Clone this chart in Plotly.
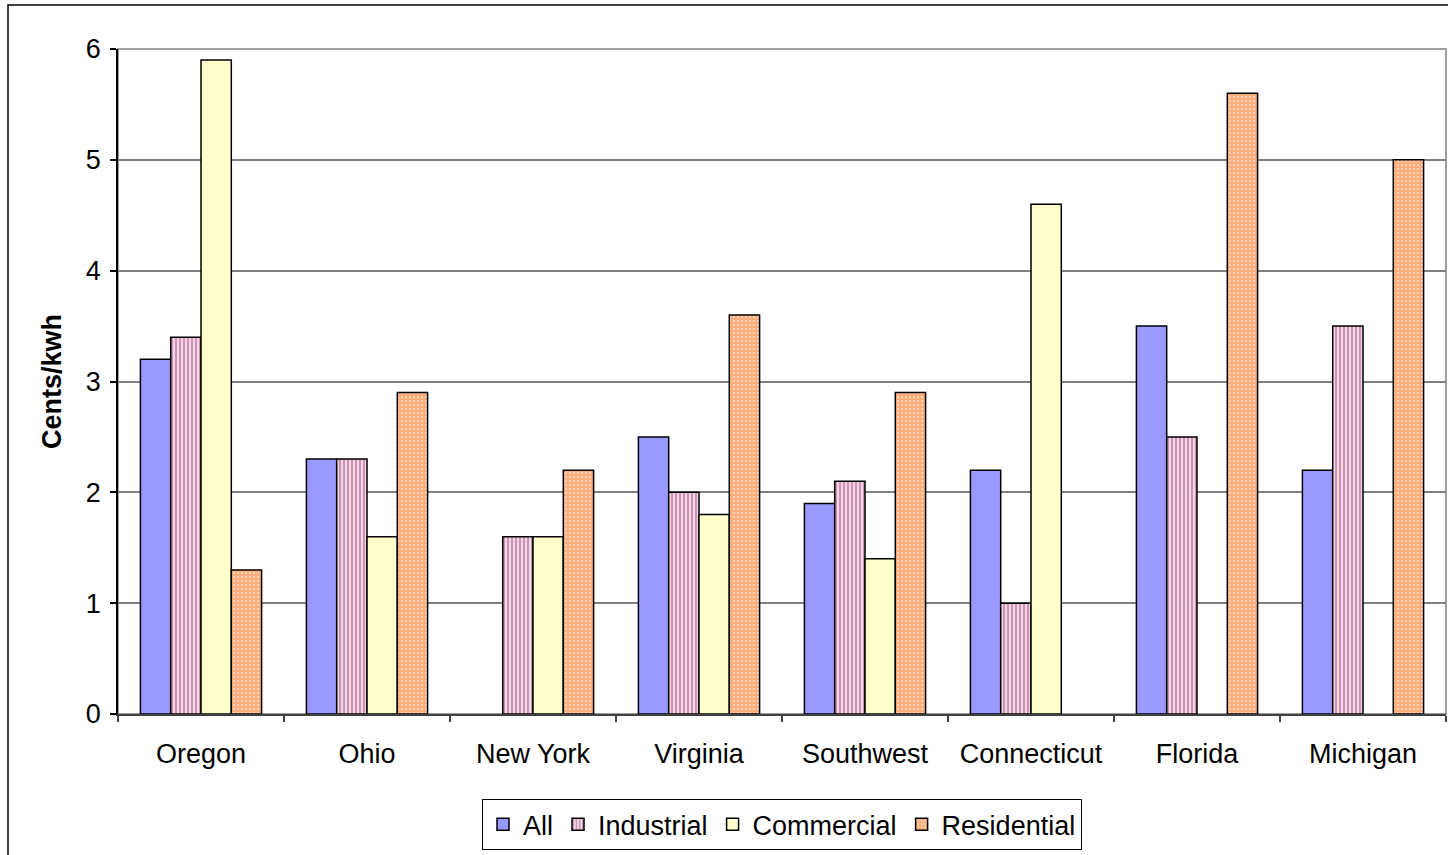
import plotly.graph_objects as go

regions = ["Oregon", "Ohio", "New York", "Virginia", "Southwest", "Connecticut", "Florida", "Michigan"]
all_sectors = [3.2, 2.3, None, 2.5, 1.9, 2.2, 3.5, 2.2]
industrial = [3.4, 2.3, 1.6, 2.0, 2.1, 1.0, 2.5, 3.5]
commercial = [5.9, 1.6, 1.6, 1.8, 1.4, 4.6, None, None]
residential = [1.3, 2.9, 2.2, 3.6, 2.9, None, 5.6, 5.0]
y_ticks = [0, 1, 2, 3, 4, 5, 6]

FONT = "Liberation Sans, Arial, sans-serif"
FS = 27
W, H = 1448, 855
L, R, T, B = 118, 2, 49, 141

edge = dict(color="black", width=1.5)

fig = go.Figure()
fig.add_trace(go.Bar(name="All", x=regions, y=all_sectors,
                     marker=dict(color="#9999FF", line=edge)))
fig.add_trace(go.Bar(name="Industrial", x=regions, y=industrial,
                     marker=dict(color="#F2D8E6", line=edge,
                                 pattern=dict(shape="|", fgcolor="#A84A7E",
                                              bgcolor="#F2D8E6", size=4, solidity=0.5))))
fig.add_trace(go.Bar(name="Commercial", x=regions, y=commercial,
                     marker=dict(color="#FFFFCC", line=edge)))
fig.add_trace(go.Bar(name="Residential", x=regions, y=residential,
                     marker=dict(color="#FFFFFF", line=edge,
                                 pattern=dict(shape="+", fgcolor="#FF6A10",
                                              bgcolor="#FFF2E6", size=4, solidity=0.85))))

# outer chart frame
pw, ph = W - L - R, H - T - B
fig.add_shape(type="rect", xref="paper", yref="paper",
              x0=(8 - L) / pw, x1=(W + 20 - L) / pw,
              y0=(H - B - (H + 20)) / ph, y1=(H - B - 5) / ph,
              line=dict(color="black", width=1.5), layer="below")
# plot area frame
fig.add_shape(type="rect", xref="paper", yref="paper", x0=0, x1=1, y0=0, y1=1,
              line=dict(color="#808080", width=1.5), layer="below")

fig.update_layout(
    width=W, height=H,
    margin=dict(l=L, r=R, t=T, b=B),
    paper_bgcolor="white", plot_bgcolor="white",
    barmode="group", bargap=0.27, bargroupgap=0,
    font=dict(family=FONT, size=FS, color="black"),
    showlegend=True,
    legend=dict(orientation="h", x=0.5, xanchor="center", y=-0.128, yanchor="top",
                bordercolor="black", borderwidth=1, bgcolor="white",
                font=dict(size=FS), itemwidth=30, tracegroupgap=0),
    xaxis=dict(showline=True, linecolor="#404040", linewidth=1.5,
               ticks="outside", tickson="boundaries", ticklen=6, tickcolor="#404040",
               tickwidth=1.5, showgrid=False, tickfont=dict(size=FS),
               ticklabelstandoff=15),
    yaxis=dict(range=[0, 6], tickvals=y_ticks, showline=True, linecolor="black",
               linewidth=1.5, ticks="outside", ticklen=6, tickcolor="black",
               tickwidth=1.5, showgrid=True, gridcolor="#808080", gridwidth=1.5,
               zeroline=False, tickfont=dict(size=FS), ticklabelstandoff=4,
               title=dict(text="<b>Cents/kwh</b>", font=dict(size=FS), standoff=16)),
)

fig.write_html("out.html")
